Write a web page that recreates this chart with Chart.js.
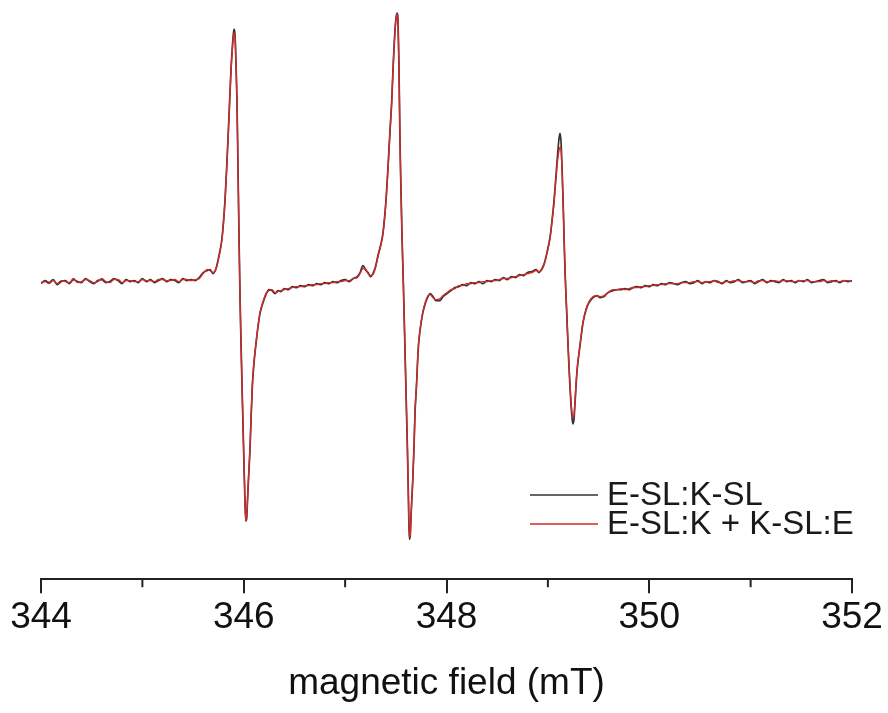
<!DOCTYPE html>
<html>
<head>
<meta charset="utf-8">
<script src="https://cdn.jsdelivr.net/npm/chart.js@4.4.1/dist/chart.umd.min.js"></script>
<style>
  html, body { margin: 0; padding: 0; background: #fff; }
  #wrap { width: 888px; height: 713px; position: relative; }
</style>
</head>
<body>
<div id="wrap"><canvas id="epr"></canvas></div>
<script>
// magnetic field (mT)
const field = [
  344.00, 344.04, 344.08, 344.12, 344.16, 344.20, 344.24, 344.28, 344.32, 344.36, 344.40, 344.44, 344.48, 344.52, 344.56, 344.60, 344.64, 344.68, 344.72, 344.76,
  344.80, 344.84, 344.88, 344.92, 344.96, 345.00, 345.04, 345.08, 345.12, 345.16, 345.20, 345.24, 345.28, 345.32, 345.36, 345.40, 345.44, 345.48,
  345.52, 345.56, 345.60, 345.64, 345.667, 345.697, 345.726, 345.756, 345.785, 345.815, 345.835, 345.855, 345.874, 345.894, 345.904, 345.914, 345.924, 345.933, 345.943, 345.953,
  345.963, 345.973, 345.983, 345.993, 346.002, 346.012, 346.020, 346.028, 346.037, 346.047, 346.062, 346.072, 346.085, 346.101, 346.121, 346.141, 346.160, 346.190, 346.219, 346.249,
  346.279, 346.308, 346.338, 346.367,
  346.40, 346.44, 346.48, 346.52, 346.56, 346.60, 346.64, 346.68, 346.72, 346.76, 346.80, 346.84, 346.88, 346.92, 346.96, 347.00, 347.04, 347.08, 347.12,
  347.147, 347.176, 347.206, 347.226, 347.250, 347.275, 347.300, 347.324, 347.354, 347.374, 347.403, 347.423, 347.443, 347.460, 347.472, 347.482, 347.492, 347.502, 347.512, 347.522,
  347.531, 347.541, 347.551, 347.561, 347.574, 347.586, 347.601, 347.615, 347.625, 347.633, 347.642, 347.650, 347.667, 347.680, 347.689, 347.704, 347.722, 347.739, 347.765, 347.793,
  347.818, 347.837, 347.867, 347.896, 347.936, 347.966, 348.005, 348.044, 348.084,
  348.12, 348.16, 348.20, 348.24, 348.28, 348.32, 348.36, 348.40, 348.44, 348.48, 348.52, 348.56, 348.60, 348.64, 348.68, 348.72, 348.76, 348.80,
  348.843, 348.883, 348.912, 348.942, 348.967, 348.991, 349.021, 349.041, 349.061, 349.080, 349.097, 349.110, 349.120, 349.130, 349.140, 349.150, 349.160, 349.169, 349.179, 349.189,
  349.199, 349.209, 349.219, 349.228, 349.238, 349.246, 349.258, 349.268, 349.288, 349.317, 349.347, 349.377, 349.406, 349.446, 349.485, 349.514, 349.554, 349.593, 349.643, 349.692,
  349.72, 349.76, 349.80, 349.84, 349.88, 349.92, 349.96, 350.00, 350.04, 350.08, 350.12, 350.16, 350.20, 350.24, 350.28, 350.32, 350.36, 350.40, 350.44, 350.48,
  350.52, 350.56, 350.60, 350.64, 350.68, 350.72, 350.76, 350.80, 350.84, 350.88, 350.92, 350.96, 351.00, 351.04, 351.08, 351.12, 351.16, 351.20, 351.24, 351.28,
  351.32, 351.36, 351.40, 351.44, 351.48, 351.52, 351.56, 351.60, 351.64, 351.68, 351.72, 351.76, 351.80, 351.84, 351.88, 351.92, 351.96, 352.00
];

// EPR derivative signal, arbitrary units
const signalKSL = [
  -2, 1, -1, 2, -3, 0, 1, -2, 2, 0, -1, 3, 0, -2, 1, 2, -1, 0, 3, 1,
  -2, 2, 0, 1, -1, 3, 0, 2, -1, 1, 3, 0, 2, 1, -1, 3, 1, 2,
  1, 4, 9, 11, 12, 8, 13, 26, 43, 81, 121, 166, 211, 243, 252, 246, 216, 181, 116, 46,
  -14, -61, -104, -144, -181, -219, -239, -237, -219, -197, -166, -137, -104, -81, -62, -45, -32, -21, -13, -8,
  -9, -12, -9, -10,
  -7, -8, -5, -6, -4, -5, -3, -4, -2, -3, -1, -2, 0, -1, 1, 2, 0, 3, 5,
  9, 16, 11, 9, 5, 8, 15, 26, 38, 49, 81, 114, 151, 181, 211, 233, 251, 263, 268, 259,
  216, 141, 91, 46, -1, -49, -112, -169, -219, -257, -254, -234, -199, -164, -132, -104, -66, -49, -32, -21,
  -15, -12, -15, -19, -19, -15, -12, -9, -6,
  -5, -3, -4, -1, -2, 0, -2, 1, 0, 2, 1, 4, 2, 5, 4, 7, 6, 9,
  10, 12, 9, 13, 19, 29, 44, 61, 81, 106, 128, 143, 148, 139, 113, 81, 43, 11, -14, -39,
  -64, -87, -107, -123, -135, -142, -137, -121, -89, -64, -41, -28, -21, -16, -14, -16, -15, -11, -9, -8,
  -8, -7, -8, -6, -5, -6, -4, -5, -3, -4, -2, -3, -1, -2, -3, -1, 0, -2, -1, 1,
  -2, 0, -1, 1, 0, -2, 1, -1, 0, 2, -1, 0, 1, -2, 0, 2, -1, 1, 0, -1,
  2, 0, 1, -1, 1, 0, 2, -1, 0, 1, 2, -1, 0, 1, -1, 1, 0, 1
];

const signalMix = [
  -1, 0, -2, 1, -2, 1, 0, -1, 3, -1, 0, 2, 1, -1, 0, 3, 0, -1, 2, 2,
  -1, 1, 1, 0, 0, 2, 1, 1, 0, 2, 2, 1, 1, 2, 0, 2, 2, 1,
  2, 3, 8, 12, 11, 9, 12, 25, 42, 80, 120, 165, 210, 240, 248, 244, 216, 181, 116, 46,
  -14, -61, -104, -144, -181, -219, -238, -236, -218, -196, -165, -136, -103, -80, -61, -44, -31, -20, -12, -9,
  -8, -11, -10, -9,
  -8, -7, -6, -5, -5, -4, -4, -3, -3, -2, -2, -1, -1, 0, 0, 1, 1, 3, 4,
  8, 13, 12, 8, 6, 7, 14, 25, 37, 48, 80, 113, 150, 180, 210, 232, 250, 262, 267, 258,
  216, 141, 91, 46, -1, -49, -112, -169, -218, -255, -253, -233, -198, -163, -131, -103, -65, -48, -31, -20,
  -14, -13, -16, -18, -17, -14, -11, -8, -7,
  -4, -4, -2, -2, -1, -1, 0, 0, 1, 1, 2, 3, 3, 4, 5, 6, 7, 8,
  9, 11, 10, 12, 18, 28, 43, 60, 79, 103, 122, 131, 134, 131, 111, 80, 43, 11, -14, -38,
  -63, -85, -104, -119, -131, -136, -133, -118, -88, -63, -40, -27, -20, -15, -14, -15, -14, -11, -8, -8,
  -7, -8, -7, -6, -6, -5, -5, -4, -4, -3, -3, -2, -2, -2, -2, -1, -1, -1, 0, 0,
  -1, 0, 0, 1, -1, -1, 0, 0, 1, 1, 0, 0, 0, -1, 1, 1, 0, 0, 1, 0,
  1, 1, 0, 0, 1, 1, 1, 0, 0, 0, 1, 0, 1, 0, 0, 1, 1, 0
];

const seriesLabels = ['E-SL:K-SL', 'E-SL:K + K-SL:E'];
const seriesColors = ['#333333', '#d12b2b'];
const minorTicks = [345, 347, 349, 351];

const FONT = "'Liberation Sans', Arial, sans-serif";

const toPoints = arr => field.map((x, i) => ({ x: x, y: arr[i] }));

// short minor ticks at odd field values + legend drawn inside plot
const extrasPlugin = {
    id: 'extras',
    afterDraw(chart) {
        const ctx = chart.ctx;
        const xs = chart.scales.x;
        ctx.save();
        ctx.strokeStyle = '#222';
        ctx.lineWidth = 2;
        minorTicks.forEach(v => {
            const px = xs.getPixelForValue(v);
            ctx.beginPath();
            ctx.moveTo(px, xs.top);
            ctx.lineTo(px, xs.top + 8);
            ctx.stroke();
        });

        // legend
        const lx0 = 530, lx1 = 598, ly = [495, 524];
        ctx.font = "33px " + FONT;
        ctx.textBaseline = 'middle';
        ctx.fillStyle = '#1a1a1a';
        chart.data.datasets.forEach((ds, i) => {
            ctx.strokeStyle = ds.borderColor;
            ctx.lineWidth = 1.4;
            ctx.beginPath();
            ctx.moveTo(lx0, ly[i]);
            ctx.lineTo(lx1, ly[i]);
            ctx.stroke();
            ctx.fillText(ds.label, 607, ly[i] + 1);
        });
        ctx.restore();
    }
};

new Chart(document.getElementById('epr'), {
    type: 'line',
    data: {
        datasets: [
            { label: seriesLabels[0], data: toPoints(signalKSL), borderColor: seriesColors[0], borderWidth: 1.7, order: 2 },
            { label: seriesLabels[1], data: toPoints(signalMix), borderColor: seriesColors[1], borderWidth: 1.4, order: 1 }
        ]
    },
    options: {
        responsive: true,
        maintainAspectRatio: false,
        animation: false,
        parsing: false,
        elements: { point: { radius: 0 }, line: { cubicInterpolationMode: 'monotone' } },
        layout: { padding: { top: 5, left: 41, right: 36, bottom: 7 } },
        plugins: { legend: { display: false }, tooltip: { enabled: false } },
        scales: {
            x: {
                type: 'linear',
                min: 344,
                max: 352,
                border: { color: '#222', width: 2 },
                grid: {
                    drawOnChartArea: false,
                    tickLength: 14,
                    lineWidth: 2,
                    tickColor: c => (c.tick && c.tick.value % 2 === 0) ? '#222' : 'rgba(0,0,0,0)'
                },
                ticks: {
                    stepSize: 1,
                    autoSkip: false,
                    maxRotation: 0,
                    padding: 2,
                    color: '#111',
                    font: { family: FONT, size: 37 },
                    callback: v => (v % 2 === 0 ? String(v) : '')
                },
                title: {
                    display: true,
                    text: 'magnetic field (mT)',
                    color: '#111',
                    font: { family: FONT, size: 37 },
                    padding: { top: 20, bottom: 0 }
                }
            },
            y: { display: false, min: -297, max: 276 }
        }
    },
    plugins: [extrasPlugin]
});
</script>
</body>
</html>
